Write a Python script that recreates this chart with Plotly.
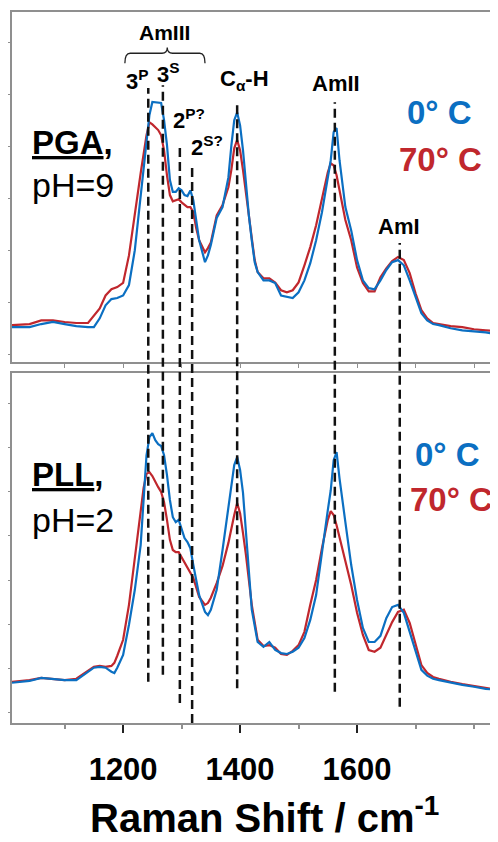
import plotly.graph_objects as go

# ---------------- data ----------------
wn_pga = [1010, 1040, 1060, 1080, 1100, 1120, 1140, 1150, 1160, 1170, 1180, 1190, 1200, 1210, 1220,
          1230, 1240, 1245, 1250, 1260, 1265, 1270, 1275, 1280, 1285, 1290, 1295, 1300, 1305, 1310,
          1315, 1320, 1325, 1330, 1340, 1345, 1350, 1360, 1370, 1380, 1385, 1390, 1395, 1400, 1405,
          1410, 1415, 1420, 1425, 1430, 1440, 1450, 1460, 1470, 1480, 1490, 1500, 1510, 1520, 1530,
          1540, 1550, 1555, 1560, 1565, 1570, 1580, 1590, 1600, 1610, 1620, 1630, 1640, 1650, 1660,
          1670, 1680, 1690, 1700, 1710, 1720, 1730, 1740, 1760, 1780, 1800, 1820, 1840]
pga_0C = [0.52, 0.52, 0.58, 0.62, 0.58, 0.54, 0.52, 0.52, 0.69, 0.94, 1.06, 1.08, 1.13, 1.33, 2.00,
          3.06, 4.12, 4.60, 4.85, 4.83, 4.83, 4.50, 4.02, 3.35, 3.12, 3.12, 3.19, 3.15, 3.06, 3.04,
          3.15, 2.96, 2.54, 2.19, 1.77, 1.90, 2.10, 2.62, 2.83, 3.40, 4.00, 4.50, 4.65, 4.40, 3.92,
          3.25, 2.67, 2.19, 1.77, 1.58, 1.42, 1.42, 1.37, 1.13, 1.10, 1.08, 1.19, 1.42, 1.75, 2.19,
          2.73, 3.38, 3.73, 4.27, 4.35, 3.73, 2.83, 2.38, 1.81, 1.42, 1.27, 1.25, 1.42, 1.62, 1.77,
          1.81, 1.71, 1.42, 1.10, 0.79, 0.65, 0.58, 0.56, 0.50, 0.46, 0.44, 0.42, 0.38]
pga_70C = [0.56, 0.58, 0.65, 0.65, 0.62, 0.60, 0.60, 0.73, 0.88, 1.13, 1.25, 1.29, 1.37, 1.90, 2.73,
           3.48, 4.21, 4.46, 4.42, 4.31, 4.21, 3.92, 3.44, 3.06, 2.94, 2.96, 2.98, 2.92, 2.87, 2.83,
           2.83, 2.73, 2.42, 2.19, 1.96, 2.04, 2.15, 2.67, 2.87, 3.21, 3.54, 3.96, 4.12, 3.92, 3.54,
           3.15, 2.67, 2.23, 1.81, 1.58, 1.46, 1.46, 1.38, 1.23, 1.19, 1.23, 1.38, 1.71, 2.06, 2.48,
           2.96, 3.50, 3.67, 3.63, 3.44, 3.15, 2.58, 2.19, 1.67, 1.37, 1.21, 1.21, 1.48, 1.65, 1.79,
           1.87, 1.81, 1.56, 1.17, 0.85, 0.69, 0.60, 0.58, 0.54, 0.52, 0.48, 0.46, 0.44]

wn_pll = [1010, 1040, 1060, 1080, 1100, 1120, 1140, 1150, 1160, 1170, 1180, 1185, 1190, 1200, 1210,
          1220, 1230, 1235, 1240, 1245, 1250, 1255, 1260, 1265, 1270, 1275, 1280, 1285, 1290, 1295,
          1300, 1305, 1310, 1315, 1320, 1330, 1340, 1345, 1350, 1360, 1370, 1380, 1385, 1390, 1395,
          1400, 1405, 1410, 1420, 1430, 1440, 1450, 1460, 1470, 1480, 1490, 1500, 1510, 1520, 1530,
          1540, 1550, 1555, 1560, 1565, 1570, 1580, 1590, 1600, 1610, 1620, 1630, 1640, 1650, 1660,
          1670, 1680, 1690, 1700, 1710, 1720, 1730, 1740, 1760, 1780, 1800, 1820, 1840]
pll_0C = [0.68, 0.72, 0.79, 0.77, 0.74, 0.74, 0.93, 1.02, 1.04, 1.02, 0.93, 0.90, 1.02, 1.31, 1.99,
          2.78, 3.79, 4.70, 5.82, 6.23, 6.32, 6.16, 6.07, 6.03, 5.82, 5.37, 4.81, 4.42, 4.31, 4.36,
          4.13, 3.95, 3.86, 3.72, 3.34, 2.66, 2.28, 2.21, 2.33, 2.78, 3.68, 4.63, 5.08, 5.60, 5.78,
          5.49, 4.97, 4.13, 2.33, 1.60, 1.49, 1.60, 1.42, 1.35, 1.33, 1.38, 1.47, 1.69, 2.10, 2.66,
          3.68, 4.58, 5.03, 5.71, 5.89, 5.30, 4.31, 3.34, 2.55, 1.92, 1.60, 1.60, 1.74, 2.14, 2.39,
          2.44, 2.26, 1.83, 1.38, 0.97, 0.84, 0.77, 0.74, 0.68, 0.63, 0.59, 0.54, 0.52]
pll_70C = [0.70, 0.74, 0.79, 0.77, 0.74, 0.77, 0.95, 1.04, 1.06, 1.04, 1.06, 1.13, 1.29, 1.65, 2.44,
           3.45, 4.47, 5.08, 5.40, 5.44, 5.35, 5.21, 5.10, 4.99, 4.76, 4.36, 3.91, 3.68, 3.63, 3.63,
           3.52, 3.41, 3.30, 3.18, 3.05, 2.62, 2.44, 2.48, 2.60, 2.93, 3.32, 3.84, 4.18, 4.47, 4.74,
           4.51, 4.06, 3.57, 2.44, 1.65, 1.51, 1.53, 1.47, 1.33, 1.31, 1.40, 1.53, 1.83, 2.44, 3.00,
           3.72, 4.36, 4.56, 4.47, 4.24, 3.97, 3.45, 2.89, 2.26, 1.76, 1.42, 1.38, 1.47, 1.76, 2.05,
           2.28, 2.33, 2.03, 1.53, 1.08, 0.90, 0.81, 0.77, 0.70, 0.65, 0.61, 0.56, 0.52]

# peak assignments (wavenumber of dashed marker lines) and their labels
peak_pos = [1243, 1268, 1297, 1318, 1395, 1562, 1673]
peak_labels = ["3<sup>P</sup>", "3<sup>S</sup>", "2<sup>P?</sup>", "2<sup>S?</sup>",
               "C<sub>α</sub>-H", "AmII", "AmI"]
amIII_range = [1203, 1340]

x_major = [1200, 1400, 1600]
x_minor = [1100, 1200, 1300, 1400, 1500, 1600, 1700, 1800]

BLUE = "#0B6FC2"
RED = "#C0272D"
FONT = "Liberation Sans, Arial, sans-serif"
AX = "#8f8f8f"

fig = go.Figure()
fig.add_trace(go.Scatter(x=wn_pga, y=pga_70C, mode="lines", line=dict(color=RED, width=2.2),
                         xaxis="x", yaxis="y", showlegend=False))
fig.add_trace(go.Scatter(x=wn_pga, y=pga_0C, mode="lines", line=dict(color=BLUE, width=2.2),
                         xaxis="x", yaxis="y", showlegend=False))
fig.add_trace(go.Scatter(x=wn_pll, y=pll_70C, mode="lines", line=dict(color=RED, width=2.2),
                         xaxis="x2", yaxis="y2", showlegend=False))
fig.add_trace(go.Scatter(x=wn_pll, y=pll_0C, mode="lines", line=dict(color=BLUE, width=2.2),
                         xaxis="x2", yaxis="y2", showlegend=False))

xrange = [1010, 1841]
common_x = dict(range=xrange, showgrid=False, zeroline=False, showline=True, linecolor=AX,
                linewidth=1.5, mirror=True, automargin=False)
common_y = dict(showgrid=False, zeroline=False, showline=True, linecolor=AX, linewidth=1.5,
                tickmode="linear", tick0=0, dtick=1, ticks="outside", ticklen=5,
                tickcolor=AX, showticklabels=False, automargin=False)
# the page body adds an 8 px margin, so the figure is sized/offset to compensate
fig.update_layout(
    width=490, height=834,
    margin=dict(l=4, r=0, t=4, b=119, autoexpand=False),
    paper_bgcolor="white", plot_bgcolor="white",
    font=dict(family=FONT, color="black"),
    xaxis=dict(**common_x, anchor="y", showticklabels=False,
               tickmode="array", tickvals=x_minor, ticks="outside", ticklen=4,
               tickcolor=AX, tickwidth=1),
    yaxis=dict(**common_y, domain=[0.5077, 1], anchor="x", range=[-0.15, 6.58]),
    xaxis2=dict(**common_x, anchor="y2", tickmode="array", tickvals=x_major,
                ticktext=[str(v) for v in x_major], ticks="outside", ticklen=8,
                tickcolor="#222", tickwidth=2,
                tickfont=dict(family=FONT, size=31, color="black", weight="bold"),
                ticklabelstandoff=10,
                minor=dict(tickvals=x_minor, ticks="outside", ticklen=4, tickcolor=AX)),
    yaxis2=dict(**common_y, domain=[0, 0.4923], anchor="x2", range=[-0.23, 7.68]),
)

# dashed marker lines (paper y extents)
line_top = [0.893, 0.897, 0.810, 0.785, 0.876, 0.873, 0.675]
line_bot = [0.058, 0.068, 0.028, 0.0, 0.049, 0.044, 0.023]
for xp, y1, y0 in zip(peak_pos, line_top, line_bot):
    fig.add_shape(type="line", xref="x", yref="paper", x0=xp, x1=xp, y0=y0, y1=y1,
                  line=dict(color="#111", width=2.5, dash="9px,5px"), layer="above")

# brace over the AmIII region
x0b, x1b = amIII_range
xt = (x0b + x1b) / 2 + 4
d = 9
ye, ym, yt = 0.928, 0.942, 0.950
path = (f"M {x0b},{ye} Q {x0b},{ym} {x0b + d},{ym} L {xt - d},{ym} Q {xt},{ym} {xt},{yt} "
        f"Q {xt},{ym} {xt + d},{ym} L {x1b - d},{ym} Q {x1b},{ym} {x1b},{ye}")
fig.add_shape(type="path", xref="x", yref="paper", path=path,
              line=dict(color="#222", width=1.3), layer="above")

ann = []
ann.append(dict(text="<b>AmIII</b>", x=(x0b + x1b) / 2, y=0.9705, size=21))
label_xy = [(1224, 0.904), (1277, 0.914), (1313, 0.849), (1344, 0.812),
            (1407, 0.905), (1564, 0.899), (1672, 0.698)]
for lab, (lx, ly) in zip(peak_labels, label_xy):
    ann.append(dict(text=f"<b>{lab}</b>", x=lx, y=ly, size=22))
for a in ann:
    fig.add_annotation(text=a["text"], x=a["x"], y=a["y"], xref="x", yref="paper",
                       showarrow=False, xanchor="center", yanchor="middle",
                       font=dict(family=FONT, size=a["size"], color="black"))

temp_labels = [("0° C", BLUE, 1741, 0.859), ("70° C", RED, 1743, 0.792),
               ("0° C", BLUE, 1755, 0.377), ("70° C", RED, 1762, 0.315)]
for t, c, tx, ty in temp_labels:
    fig.add_annotation(text=f"<b>{t}</b>", x=tx, y=ty, xref="x", yref="paper",
                       showarrow=False, xanchor="center", yanchor="middle",
                       font=dict(family=FONT, size=33, color=c))

sample_labels = [("<b><u>PGA</u>,</b>", 0.816, 33), ("pH=9", 0.757, 34),
                 ("<b><u>PLL</u>,</b>", 0.349, 33), ("pH=2", 0.2855, 34)]
for t, ty, fs in sample_labels:
    fig.add_annotation(text=t, x=0.037, y=ty, xref="paper", yref="paper",
                       showarrow=False, xanchor="left", yanchor="middle",
                       font=dict(family=FONT, size=fs, color="black"))

fig.add_annotation(text="<b>Raman Shift / cm<sup>-1</sup></b>", x=0.519, y=-0.1655,
                   xref="paper", yref="paper", showarrow=False,
                   xanchor="center", yanchor="bottom", borderpad=0,
                   font=dict(family=FONT, size=40, color="black"))

fig.write_html("out.html")
